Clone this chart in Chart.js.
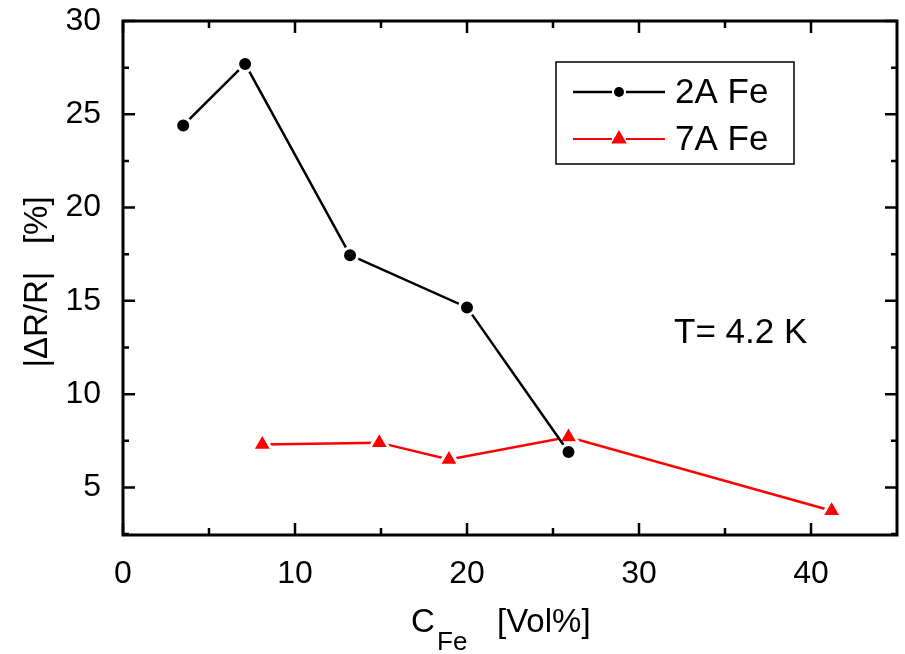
<!DOCTYPE html>
<html>
<head>
<meta charset="utf-8">
<script src="https://cdn.jsdelivr.net/npm/chart.js@4.4.1/dist/chart.umd.min.js"></script>
<style>
  html, body { margin: 0; padding: 0; background: #fff; }
  canvas { display: block; }
</style>
</head>
<body>
<canvas id="c" width="905" height="654"></canvas>
<script>
// values
const fe2A_x = [3.5, 7.1, 13.2, 20.0, 25.9];
const fe2A_y = [24.4, 27.7, 17.45, 14.65, 6.9];
const fe7A_x = [8.1, 14.9, 18.95, 25.9, 41.2];
const fe7A_y = [7.3, 7.4, 6.5, 7.7, 3.75];
const seriesNames = ['2A Fe', '7A Fe'];
const xTicks = [0, 10, 20, 30, 40];
const xMinor = [5, 15, 25, 35];
const yTicks = [5, 10, 15, 20, 25, 30];
const yMinor = [2.5, 7.5, 12.5, 17.5, 22.5, 27.5];

const FONT = "'Liberation Sans', Arial, sans-serif";

const toPts = (xs, ys) => xs.map((v, i) => ({ x: v, y: ys[i] }));

// frame with inward ticks on all four sides
const framePlugin = {
  id: 'frame',
  afterDatasetsDraw(chart) {
    const { ctx, chartArea: a, scales: { x, y } } = chart;
    ctx.save();
    ctx.strokeStyle = '#000';
    ctx.lineWidth = 2.5;
    const xt = (vals, len) => vals.forEach(v => {
      const p = x.getPixelForValue(v);
      ctx.beginPath();
      ctx.moveTo(p, a.bottom); ctx.lineTo(p, a.bottom - len);
      ctx.moveTo(p, a.top); ctx.lineTo(p, a.top + len);
      ctx.stroke();
    });
    const yt = (vals, len) => vals.forEach(v => {
      const p = y.getPixelForValue(v);
      ctx.beginPath();
      ctx.moveTo(a.left, p); ctx.lineTo(a.left + len, p);
      ctx.moveTo(a.right, p); ctx.lineTo(a.right - len, p);
      ctx.stroke();
    });
    xt(xTicks, 12); xt(xMinor, 7);
    yt(yTicks, 12); yt(yMinor, 6);
    ctx.lineWidth = 3;
    ctx.strokeRect(a.left, a.top, a.right - a.left, a.bottom - a.top);
    ctx.restore();
  }
};

// legend with line-marker-line samples, plus annotations and axis titles
const textPlugin = {
  id: 'texts',
  afterDraw(chart) {
    const ctx = chart.ctx;
    ctx.save();
    // legend box
    ctx.strokeStyle = '#000';
    ctx.lineWidth = 1.5;
    ctx.strokeRect(556, 62, 238, 102);
    const rows = [92, 139];
    chart.data.datasets.forEach((ds, i) => {
      const yy = rows[i];
      ctx.strokeStyle = ds.borderColor;
      ctx.lineWidth = i === 0 ? 2.5 : 2;
      ctx.beginPath(); ctx.moveTo(573, yy); ctx.lineTo(612, yy);
      ctx.moveTo(626, yy); ctx.lineTo(665, yy); ctx.stroke();
      ctx.fillStyle = ds.pointBackgroundColor;
      Chart.helpers.drawPoint(ctx, {
        pointStyle: ds.pointStyle, radius: i === 0 ? 5 : 9, borderWidth: 0
      }, 619, yy);
      ctx.fillStyle = '#000';
      ctx.font = '35px ' + FONT;
      ctx.textBaseline = 'middle';
      ctx.textAlign = 'left';
      ctx.fillText(ds.label, 675, yy + 1);
    });
    // temperature note
    ctx.fillStyle = '#000';
    ctx.font = '35px ' + FONT;
    ctx.textBaseline = 'alphabetic';
    ctx.fillText('T= 4.2 K', 674, 343);
    // x title with subscript
    ctx.font = '33px ' + FONT;
    ctx.fillText('C', 411, 632);
    ctx.font = '26px ' + FONT;
    ctx.fillText('Fe', 437, 650);
    ctx.font = '33px ' + FONT;
    ctx.fillText('[Vol%]', 497, 632);
    // y title
    ctx.translate(47, 282);
    ctx.rotate(-Math.PI / 2);
    ctx.textAlign = 'center';
    ctx.font = '33px ' + FONT;
    ctx.fillText('|\u0394R/R|   [%]', 0, 0);
    ctx.restore();
  }
};

new Chart(document.getElementById('c'), {
  type: 'line',
  data: {
    datasets: [
      {
        label: seriesNames[0],
        data: toPts(fe2A_x, fe2A_y),
        borderColor: '#000000',
        backgroundColor: '#000000',
        pointBackgroundColor: '#000000',
        pointBorderColor: '#ffffff',
        borderWidth: 2.5,
        pointRadius: 7.5,
        pointBorderWidth: 3,
        pointStyle: 'circle',
        tension: 0
      },
      {
        label: seriesNames[1],
        data: toPts(fe7A_x, fe7A_y),
        borderColor: '#ff0000',
        backgroundColor: '#ff0000',
        pointBackgroundColor: '#ff0000',
        pointBorderColor: '#ffffff',
        borderWidth: 2.5,
        pointRadius: 11.5,
        pointBorderWidth: 3,
        pointStyle: 'triangle',
        tension: 0
      }
    ]
  },
  options: {
    responsive: false,
    animation: false,
    clip: false,
    layout: { autoPadding: false, padding: { top: 21, right: 8, left: 0, bottom: 0 } },
    plugins: { legend: { display: false }, tooltip: { enabled: false } },
    scales: {
      x: {
        type: 'linear',
        min: 0, max: 45,
        grid: { display: false },
        border: { display: false },
        afterBuildTicks: s => { s.ticks = xTicks.map(v => ({ value: v })); },
        afterFit: s => { s.height = 119; s.paddingLeft = 0; s.paddingRight = 0; },
        ticks: { color: '#000', font: { size: 32, family: FONT }, padding: 12, maxRotation: 0, autoSkip: false }
      },
      y: {
        type: 'linear',
        min: 2.45, max: 30,
        grid: { display: false },
        border: { display: false },
        afterBuildTicks: s => { s.ticks = yTicks.map(v => ({ value: v })); },
        afterFit: s => { s.width = 123; s.paddingTop = 0; s.paddingBottom = 0; },
        ticks: { color: '#000', font: { size: 32, family: FONT }, padding: 14, autoSkip: false }
      }
    }
  },
  plugins: [framePlugin, textPlugin]
});
</script>
</body>
</html>
